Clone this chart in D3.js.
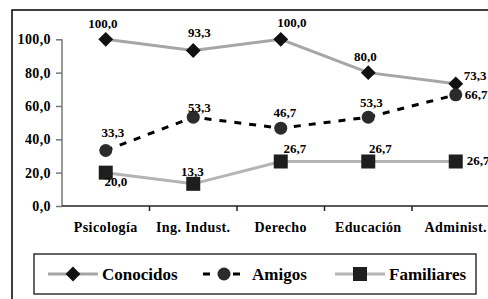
<!DOCTYPE html>
<html lang="es">
<head>
    <meta charset="UTF-8">
    <title>Conocidos, Amigos, Familiares</title>
    <script src="https://d3js.org/d3.v7.min.js"></script>
    <style>
        body { margin: 0; background: #fff; }
        svg { display: block; }
        text { font-family: "Liberation Serif", "Times New Roman", serif; font-weight: bold; fill: #000; }
    </style>
</head>
<body>
<svg id="chart" width="488" height="299"></svg>
<script>
    const categories = ["Psicología", "Ing. Indust.", "Derecho", "Educación", "Administ."];
    const conocidos = [100.0, 93.3, 100.0, 80.0, 73.3];
    const amigos = [33.3, 53.3, 46.7, 53.3, 66.7];
    const familiares = [20.0, 13.3, 26.7, 26.7, 26.7];
    const yTicks = [0, 20, 40, 60, 80, 100];

    // label offsets (dx, dy, anchor) per point
    const conocidosLabelPos = [[-3, -11, "middle"], [6, -13, "middle"], [11, -12, "middle"], [-3, -12, "middle"], [8, -4, "start"]];
    const amigosLabelPos = [[7, -13, "middle"], [6, -5, "middle"], [4, -11, "middle"], [3, -10, "middle"], [9, 4, "start"]];
    const familiaresLabelPos = [[10, 13, "middle"], [-1, -8, "middle"], [14, -8, "middle"], [12, -8, "middle"], [11, 4, "start"]];

    const fmt = v => v.toFixed(1).replace(".", ",");

    const svg = d3.select("#chart");

    // outer frame
    svg.append("rect")
        .attr("x", 12).attr("y", 10)
        .attr("width", 500).attr("height", 300)
        .attr("fill", "#fff").attr("stroke", "#000").attr("stroke-width", 1.5);

    const x = d3.scaleBand().domain(categories).range([62, 499.5]);
    const y = d3.scaleLinear().domain([0, 100]).range([206, 39.3]);
    const cx = d => x(d) + x.bandwidth() / 2;

    // y axis
    const yAxis = svg.append("g")
        .attr("transform", "translate(62,0)")
        .call(d3.axisLeft(y).tickValues(yTicks).tickSize(6).tickFormat(fmt));
    yAxis.selectAll("line, path").attr("stroke", "#777").attr("stroke-width", 1.5);
    yAxis.select(".domain").attr("d", `M0,${y(100)}V${y(0)}`);
    yAxis.selectAll("text").attr("font-size", 14).attr("x", -11)
        .style("font-family", "'Liberation Serif', serif").style("font-weight", "bold")
        .style("letter-spacing", "0.4px");

    // x axis
    const xAxis = svg.append("g").attr("transform", "translate(0,206)");
    xAxis.append("line").attr("x1", 62).attr("x2", 500).attr("stroke", "#222").attr("stroke-width", 1.5);
    xAxis.selectAll(".tk").data(categories.slice(0, -1)).join("line")
        .attr("x1", d => x(d) + x.bandwidth()).attr("x2", d => x(d) + x.bandwidth())
        .attr("y1", 0).attr("y2", 5).attr("stroke", "#222").attr("stroke-width", 1.5);
    xAxis.selectAll("text").data(categories).join("text")
        .attr("x", cx).attr("y", 26).attr("text-anchor", "middle")
        .attr("font-size", 14).style("letter-spacing", "0.4px").text(d => d);

    const line = d3.line().x((d, i) => cx(categories[i])).y(d => y(d));

    const series = [
        { name: "Conocidos", values: conocidos, color: "#a6a6a6", dash: null, marker: "diamond", labels: conocidosLabelPos },
        { name: "Amigos", values: amigos, color: "#000", dash: "7,8", marker: "circle", labels: amigosLabelPos },
        { name: "Familiares", values: familiares, color: "#b4b4b4", dash: null, marker: "square", labels: familiaresLabelPos }
    ];

    const drawMarker = (g, type, px, py) => {
        if (type === "diamond") {
            g.append("path").attr("d", d3.symbol(d3.symbolDiamond2, 140)())
                .attr("transform", `translate(${px},${py})`).attr("fill", "#111");
        } else if (type === "circle") {
            g.append("circle").attr("cx", px).attr("cy", py).attr("r", 6.5).attr("fill", "#2b2b2b");
        } else {
            g.append("rect").attr("x", px - 7).attr("y", py - 7).attr("width", 14).attr("height", 14).attr("fill", "#1e1e1e");
        }
    };

    series.forEach(s => {
        const g = svg.append("g");
        g.append("path").datum(s.values).attr("d", line)
            .attr("fill", "none").attr("stroke", s.color).attr("stroke-width", 3)
            .attr("stroke-dasharray", s.dash);
        s.values.forEach((v, i) => drawMarker(g, s.marker, cx(categories[i]), y(v)));
        s.values.forEach((v, i) => {
            const [dx, dy, anchor] = s.labels[i];
            g.append("text")
                .attr("x", cx(categories[i]) + dx).attr("y", y(v) + dy)
                .attr("text-anchor", anchor).attr("font-size", 13).text(fmt(v));
        });
    });

    // legend
    const lg = svg.append("g");
    lg.append("rect").attr("x", 34).attr("y", 254).attr("width", 442).attr("height", 40)
        .attr("fill", "#fff").attr("stroke", "#333").attr("stroke-width", 1.5);
    const legendX = [48, 203, 335];
    series.forEach((s, i) => {
        const lx = legendX[i];
        const ly = 274;
        const w = s.dash ? 42 : 50;
        lg.append("line").attr("x1", lx).attr("x2", lx + w).attr("y1", ly).attr("y2", ly)
            .attr("stroke", s.color).attr("stroke-width", 3).attr("stroke-dasharray", s.dash);
        drawMarker(lg, s.marker, lx + w / 2, ly);
        lg.append("text").attr("x", lx + w + (s.dash ? 7 : 4)).attr("y", ly + 6)
            .attr("font-size", 17).text(s.name);
    });
</script>
</body>
</html>
